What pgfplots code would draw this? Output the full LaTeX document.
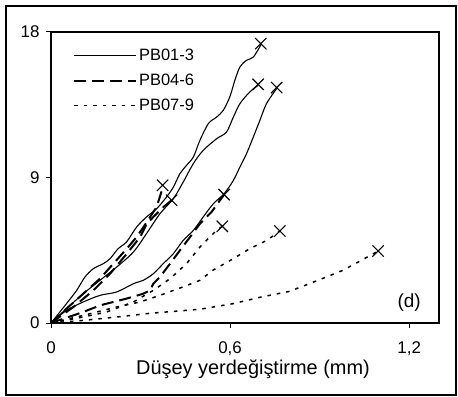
\documentclass[border=0pt]{standalone}
\usepackage{pgfplots}
\pgfplotsset{compat=1.18}
\usepackage{fontspec}
\setmainfont{Liberation Sans}
\begin{document}
\begin{tikzpicture}
\path[use as bounding box] (-51bp,-74bp) rectangle (407bp,323bp);
\begin{axis}[
  scale only axis, width=388bp, height=291bp,
  xmin=0, xmax=1.3, ymin=0, ymax=18,
  xtick={0,0.6,1.2}, xticklabels={0,{0,6},{1,2}},
  ytick={0,9,18},
  tick align=outside, xtick pos=bottom, ytick pos=left,
  major tick length=5bp,
  tick style={black, line width=1bp},
  axis line style={line width=1.5bp},
  ticklabel style={font=\fontsize{17}{19}\selectfont},
  /pgf/number format/assume math mode=true,
  xticklabel style={yshift=-10bp},
  yticklabel style={xshift=-3bp},
  xlabel={Düşey yerdeğiştirme (mm)},
  xlabel style={font=\fontsize{20}{24}\selectfont, at={(axis description cs:0.5,0)}, anchor=base, yshift=-51bp, xshift=8bp},
  legend style={draw=none, fill=none, at={(axis description cs:0,1)}, anchor=north west, xshift=19bp, yshift=-13bp, font=\fontsize{16.5}{19}\selectfont, row sep=8bp, cells={anchor=west}},
  legend image code/.code={\draw[#1] (0bp,0bp) -- (62bp,0bp);},
  clip=false,
]
% PB01-3 (solid)
\addplot[black, line width=1.1bp, smooth] coordinates {
(0,0) (0.052,1.20) (0.086,2.02) (0.114,2.85) (0.142,3.36) (0.175,3.67) (0.198,3.98)
(0.225,4.60) (0.253,5.01) (0.287,5.94) (0.320,6.56) (0.354,7.07) (0.387,7.79)
(0.410,8.41) (0.432,9.24) (0.454,9.75) (0.477,10.27) (0.499,11.30) (0.527,12.33)
(0.555,12.74) (0.577,13.15) (0.599,13.98) (0.616,15.01) (0.633,15.84) (0.655,16.25)
(0.678,16.45) (0.703,17.20)};
\addlegendentry{PB01-3}
% PB04-6 (dashed)
\addplot[black, line width=2bp, dash pattern=on 12bp off 6bp] coordinates {
(0,0) (0.052,0.89) (0.108,1.81) (0.164,2.74) (0.209,3.67) (0.254,4.60) (0.287,5.32)
(0.310,5.94) (0.332,6.56) (0.354,7.18) (0.374,8.35)};
\addlegendentry{PB04-6}
% PB07-9 (dotted)
\addplot[black, line width=1.5bp, dash pattern=on 3.5bp off 6bp] coordinates {
(0,0) (0.108,0.37) (0.186,0.68) (0.276,1.30) (0.343,2.02) (0.399,2.74) (0.454,3.67)
(0.499,4.70) (0.532,5.32) (0.555,5.73) (0.574,5.98)};
\addlegendentry{PB07-9}
% other solid
\addplot[black, line width=1.1bp, smooth, forget plot] coordinates {
(0,0) (0.052,0.89) (0.108,1.81) (0.164,2.64) (0.220,3.46) (0.276,4.39) (0.320,5.53)
(0.365,6.76) (0.410,7.69) (0.443,8.72) (0.477,9.86) (0.510,10.68) (0.555,11.40)
(0.588,11.81) (0.611,12.74) (0.633,13.57) (0.666,14.29) (0.694,14.70)};
\addplot[black, line width=1.1bp, smooth, forget plot] coordinates {
(0,0) (0.052,0.78) (0.108,1.30) (0.164,1.71) (0.220,1.92) (0.276,2.43) (0.309,2.64)
(0.343,3.05) (0.376,3.67) (0.410,4.29) (0.443,5.11) (0.477,5.73) (0.510,6.56)
(0.544,7.38) (0.580,8.00) (0.611,8.82) (0.633,9.65) (0.655,10.47) (0.678,11.51)
(0.700,12.54) (0.722,13.57) (0.756,14.50)};
% other dashed
\addplot[black, line width=2bp, dash pattern=on 12bp off 6bp, forget plot] coordinates {
(0,0) (0.075,0.99) (0.142,2.02) (0.198,3.05) (0.254,4.29) (0.299,5.32) (0.321,6.14)
(0.343,6.56) (0.377,7.18) (0.404,7.59)};
\addplot[black, line width=2bp, dash pattern=on 12bp off 6bp, forget plot] coordinates {
(0,0) (0.108,0.68) (0.164,1.09) (0.253,1.51) (0.309,1.81) (0.332,2.02) (0.343,2.43)
(0.365,2.85) (0.399,3.67) (0.432,4.49) (0.466,5.32) (0.499,6.14) (0.538,6.87) (0.580,7.94)};
% other dotted
\addplot[black, line width=1.5bp, dash pattern=on 3.5bp off 6bp, forget plot] coordinates {
(0,0) (0.108,0.47) (0.220,0.99) (0.298,1.30) (0.365,1.71) (0.442,2.23) (0.499,2.64)
(0.542,3.26) (0.611,3.98) (0.666,4.60) (0.723,5.11) (0.767,5.69)};
\addplot[black, line width=1.5bp, dash pattern=on 3.5bp off 6bp, forget plot] coordinates {
(0,0) (0.108,0.16) (0.220,0.37) (0.332,0.60) (0.499,0.85) (0.611,1.20) (0.700,1.59)
(0.800,1.96) (0.911,2.76) (0.978,3.26) (1.052,4.00) (1.096,4.45)};
% failure points
\addplot[only marks, mark=x, mark size=8bp, black, mark options={line width=1.1bp}, forget plot] coordinates {
(0.703,17.28) (0.694,14.76) (0.756,14.56) (0.374,8.52) (0.404,7.59) (0.580,7.94)
(0.574,5.98) (0.767,5.69) (1.096,4.45)};
\node[font=\fontsize{19}{22}\selectfont] at (axis cs:1.2,1.25) {(d)};
\end{axis}
\draw[line width=1.5bp] (-45bp,-72bp) rectangle (405bp,317bp);
\end{tikzpicture}
\end{document}
